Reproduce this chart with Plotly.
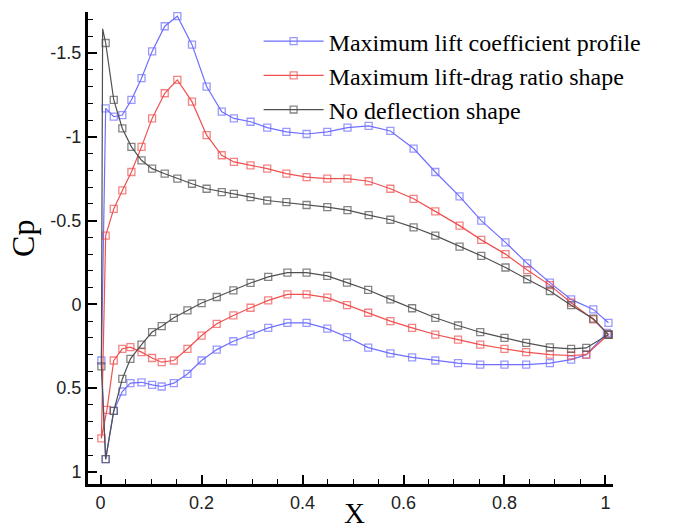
import plotly.graph_objects as go

# Pressure coefficient distributions along the chord (upper and lower surfaces)
# Upper surface, leading edge -> trailing edge
X_UPPER = [0.01, 0.026, 0.043, 0.061, 0.081, 0.102, 0.127, 0.152, 0.181, 0.21,
           0.24, 0.264, 0.297, 0.33, 0.368, 0.408, 0.449, 0.489, 0.531, 0.574,
           0.62, 0.663, 0.711, 0.754, 0.802, 0.845, 0.89, 0.932, 0.976, 1.006]

CP_UPPER_MAX_LIFT = [-1.17, -1.12, -1.13, -1.22, -1.35, -1.51, -1.66, -1.72, -1.55, -1.30,
                     -1.15, -1.11, -1.09, -1.055, -1.03, -1.017, -1.03, -1.055, -1.065, -1.035,
                     -0.93, -0.79, -0.645, -0.50, -0.37, -0.245, -0.13, -0.03, 0.03, 0.11]
CP_UPPER_MAX_LD = [-0.41, -0.57, -0.68, -0.79, -0.94, -1.11, -1.26, -1.34, -1.21, -1.01,
                   -0.89, -0.85, -0.83, -0.81, -0.78, -0.76, -0.75, -0.75, -0.735, -0.69,
                   -0.63, -0.555, -0.47, -0.385, -0.30, -0.205, -0.115, -0.01, 0.09, 0.18]
CP_UPPER_BASE = [-1.56, -1.22, -1.05, -0.94, -0.86, -0.81, -0.78, -0.75, -0.72, -0.69,
                 -0.67, -0.66, -0.64, -0.62, -0.61, -0.593, -0.58, -0.563, -0.533, -0.505,
                 -0.46, -0.41, -0.345, -0.29, -0.22, -0.15, -0.08, 0.005, 0.085, 0.18]

# Suction spike at the nose of the undeflected section (no marker there)
X_NOSE_BASE = [0.004]
CP_NOSE_BASE = [-1.645]

# Lower surface, leading edge -> trailing edge
X_LOWER = [0.026, 0.043, 0.059, 0.081, 0.102, 0.121, 0.145, 0.172, 0.2, 0.23,
           0.263, 0.297, 0.332, 0.37, 0.408, 0.449, 0.488, 0.53, 0.574, 0.617,
           0.663, 0.708, 0.752, 0.8, 0.843, 0.89, 0.932, 0.962]

X_LE_MAX_LIFT = [0.0015, 0.01]
CP_LE_MAX_LIFT = [0.335, 0.924]
X_LE_MAX_LD = [0.0015, 0.0125]
CP_LE_MAX_LD = [0.80, 0.63]
X_LE_BASE = [0.0015, 0.01]
CP_LE_BASE = [0.37, 0.924]

CP_LOWER_MAX_LIFT = [0.635, 0.52, 0.47, 0.465, 0.48, 0.49, 0.47, 0.415, 0.335, 0.27,
                     0.22, 0.18, 0.14, 0.11, 0.11, 0.145, 0.195, 0.258, 0.292, 0.316,
                     0.335, 0.35, 0.36, 0.36, 0.36, 0.35, 0.33, 0.30]
CP_LOWER_MAX_LD = [0.335, 0.265, 0.255, 0.285, 0.32, 0.345, 0.335, 0.265, 0.186, 0.116,
                   0.066, 0.02, -0.024, -0.06, -0.06, -0.04, 0.005, 0.05, 0.10, 0.14,
                   0.18, 0.21, 0.24, 0.265, 0.285, 0.30, 0.305, 0.30]
CP_LOWER_BASE = [0.635, 0.445, 0.325, 0.24, 0.165, 0.13, 0.08, 0.036, -0.008, -0.044,
                 -0.084, -0.128, -0.164, -0.19, -0.19, -0.17, -0.13, -0.086, -0.03, 0.023,
                 0.08, 0.126, 0.166, 0.20, 0.23, 0.256, 0.265, 0.26]

# Trailing-edge closure points
X_TE_MAX_LIFT, CP_TE_MAX_LIFT = [1.003], [0.17]
X_TE_MAX_LD, CP_TE_MAX_LD = [1.006], [0.18]
X_TE_BASE, CP_TE_BASE = [1.006], [0.18]

NAMES = ["Maximum lift coefficient profile",
         "Maximum lift-drag ratio shape",
         "No deflection shape"]
COLORS = ["#6e6eff", "#f05050", "#505050"]

series = [
    (X_UPPER, CP_UPPER_MAX_LIFT, [], [], X_LE_MAX_LIFT + X_LOWER + X_TE_MAX_LIFT,
     CP_LE_MAX_LIFT + CP_LOWER_MAX_LIFT + CP_TE_MAX_LIFT),
    (X_UPPER, CP_UPPER_MAX_LD, [], [], X_LE_MAX_LD + X_LOWER + X_TE_MAX_LD,
     CP_LE_MAX_LD + CP_LOWER_MAX_LD + CP_TE_MAX_LD),
    (X_UPPER, CP_UPPER_BASE, X_NOSE_BASE, CP_NOSE_BASE, X_LE_BASE + X_LOWER + X_TE_BASE,
     CP_LE_BASE + CP_LOWER_BASE + CP_TE_BASE),
]

fig = go.Figure()
for name, color, (xu, cu, xn, cn, xl, cl) in zip(NAMES, COLORS, series):
    xs = xu[::-1] + xn + xl
    cs = cu[::-1] + cn + cl
    sizes = [7] * len(xu) + [0] * len(xn) + [7] * len(xl)
    fig.add_trace(go.Scatter(
        x=xs, y=cs, name=name, mode="lines+markers",
        line=dict(color=color, width=1.2),
        marker=dict(symbol="square-open", size=sizes, color=color,
                    line=dict(color=color, width=1.3)),
    ))

axis_common = dict(
    showline=True, linecolor="black", linewidth=3,
    ticks="inside", tickcolor="black", tickwidth=2, ticklen=9,
    showgrid=False, zeroline=False,
    tickfont=dict(family="Liberation Sans, Arial", size=18, color="#222"),
    minor=dict(ticks="inside", ticklen=5, tickwidth=1, tickcolor="black", showgrid=False),
)

fig.update_xaxes(range=[-0.025, 1.015], tickvals=[0, 0.2, 0.4, 0.6, 0.8, 1],
                 ticktext=["0", "0.2", "0.4", "0.6", "0.8", "1"],
                 minor_dtick=0.05, minor_tick0=0, **axis_common)
fig.update_yaxes(range=[1.072, -1.745], tickvals=[-1.5, -1, -0.5, 0, 0.5, 1],
                 ticktext=["-1.5", "-1", "-0.5", "0", "0.5", "1"],
                 minor_dtick=0.1, minor_tick0=0, **axis_common)

fig.update_layout(
    width=683, height=531,
    margin=dict(l=88, r=70, t=12, b=47),
    plot_bgcolor="white", paper_bgcolor="white",
    showlegend=True,
    legend=dict(x=0.325, y=0.985, xanchor="left", yanchor="top",
                bgcolor="rgba(0,0,0,0)",
                font=dict(family="Liberation Serif, Times New Roman", size=24, color="black"),
                tracegroupgap=0, itemwidth=60),
    annotations=[
        dict(text="Cp", xref="paper", yref="paper", x=-0.125, y=0.52,
             xanchor="center", yanchor="middle", textangle=-90, showarrow=False,
             font=dict(family="Liberation Serif, Times New Roman", size=32, color="black")),
        dict(text="X", xref="paper", yref="paper", x=0.508, y=-0.099,
             xanchor="center", yanchor="bottom", showarrow=False,
             font=dict(family="Liberation Serif, Times New Roman", size=29, color="black")),
    ],
)

fig.write_html("out.html")
